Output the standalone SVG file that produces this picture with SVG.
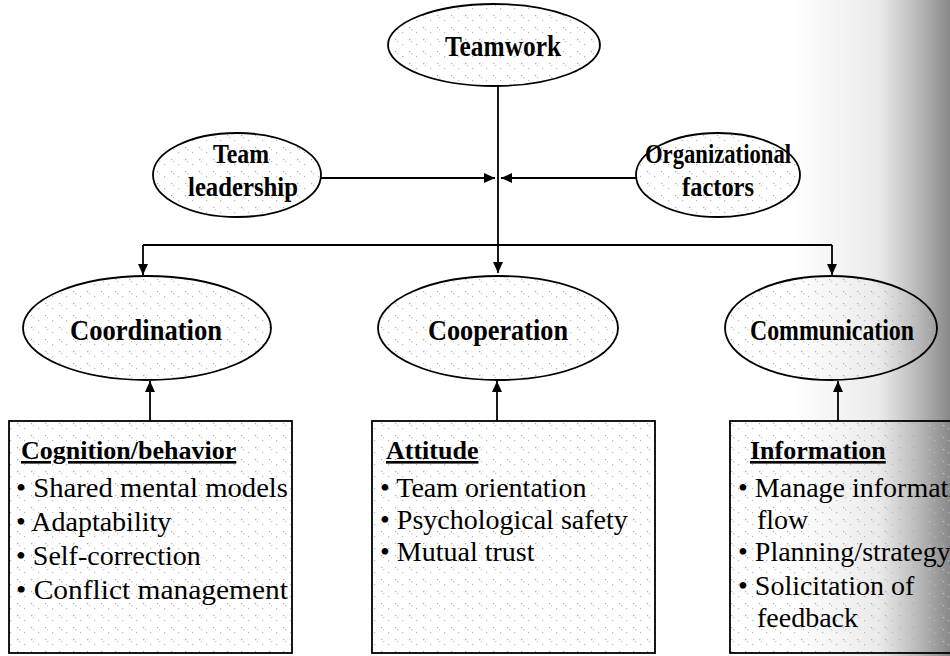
<svg xmlns="http://www.w3.org/2000/svg" width="950" height="656" viewBox="0 0 950 656">
  <style>
    .shape { stroke: #000; stroke-width: 1.8; fill: url(#speckle); }
    .wire { stroke: #000; stroke-width: 1.8; fill: none; }
    .label { font-family: "Liberation Serif", "Times New Roman", serif; font-weight: bold; font-size: 30px; fill: #000; text-anchor: middle; }
    .pair { font-size: 27px; }
    .head { font-family: "Liberation Serif", "Times New Roman", serif; font-weight: bold; font-size: 26px; fill: #000; text-decoration: underline; }
    .item { font-family: "Liberation Serif", "Times New Roman", serif; font-size: 28px; fill: #000; }
  </style>
  <defs>
    <!-- faint speckle texture; transparent between dots so the page tone shows through -->
    <pattern id="speckle" width="14" height="12" patternUnits="userSpaceOnUse">
      <rect x="3" y="3" width="1.2" height="1.2" fill="#aaa"/>
      <rect x="5" y="5" width="1.2" height="1.2" fill="#c4c4c4"/>
      <rect x="10" y="8" width="1.2" height="1.2" fill="#b8b8b8"/>
    </pattern>
    <marker id="arrow" markerWidth="12" markerHeight="12" refX="11" refY="6" orient="auto" markerUnits="userSpaceOnUse">
      <path d="M0,1 L11,6 L0,11 Z" fill="#000"/>
    </marker>
    <linearGradient id="scanShade" x1="0" y1="0" x2="1" y2="0">
      <stop offset="0" stop-color="#777" stop-opacity="0"/>
      <stop offset="0.55" stop-color="#777" stop-opacity="0.15"/>
      <stop offset="1" stop-color="#555" stop-opacity="0.7"/>
    </linearGradient>
  </defs>

  <rect width="950" height="656" fill="#fff"/>
  <!-- darkened right margin of the page -->
  <rect x="790" y="0" width="160" height="656" fill="url(#scanShade)"/>

  <!-- connectors -->
  <g id="connectors">
    <path class="wire" d="M498,86 V273" marker-end="url(#arrow)"/>
    <path class="wire" d="M320,178 H495" marker-end="url(#arrow)"/>
    <path class="wire" d="M637,178 H501" marker-end="url(#arrow)"/>
    <path class="wire" d="M143,245 H832"/>
    <path class="wire" d="M143,245 V275" marker-end="url(#arrow)"/>
    <path class="wire" d="M832,245 V275" marker-end="url(#arrow)"/>
    <path class="wire" d="M150,421 V381" marker-end="url(#arrow)"/>
    <path class="wire" d="M497,421 V381" marker-end="url(#arrow)"/>
    <path class="wire" d="M838,421 V381" marker-end="url(#arrow)"/>
  </g>

  <!-- top level -->
  <g id="teamwork">
    <ellipse class="shape" cx="494" cy="45" rx="106" ry="41"/>
    <text class="label" x="503" y="56" textLength="116" lengthAdjust="spacingAndGlyphs">Teamwork</text>
  </g>

  <g id="team-leadership">
    <ellipse class="shape" cx="237" cy="175" rx="84" ry="42"/>
    <text class="label pair" x="241" y="163" textLength="56" lengthAdjust="spacingAndGlyphs">Team</text>
    <text class="label pair" x="243" y="196" textLength="110" lengthAdjust="spacingAndGlyphs">leadership</text>
  </g>

  <g id="organizational-factors">
    <ellipse class="shape" cx="718" cy="175" rx="82" ry="42"/>
    <text class="label pair" x="718" y="163" textLength="146" lengthAdjust="spacingAndGlyphs">Organizational</text>
    <text class="label pair" x="718" y="196" textLength="72" lengthAdjust="spacingAndGlyphs">factors</text>
  </g>

  <!-- second level -->
  <g id="coordination">
    <ellipse class="shape" cx="147" cy="328" rx="124" ry="52"/>
    <text class="label" x="146" y="340" textLength="152" lengthAdjust="spacingAndGlyphs">Coordination</text>
  </g>

  <g id="cooperation">
    <ellipse class="shape" cx="498" cy="328" rx="120" ry="52"/>
    <text class="label" x="498" y="340" textLength="140" lengthAdjust="spacingAndGlyphs">Cooperation</text>
  </g>

  <g id="communication">
    <ellipse class="shape" cx="831" cy="328" rx="106" ry="52"/>
    <text class="label" x="832" y="340" textLength="164" lengthAdjust="spacingAndGlyphs">Communication</text>
  </g>

  <!-- detail boxes -->
  <g id="cognition-behavior">
    <rect class="shape" x="9" y="421" width="283" height="232"/>
    <text class="head" x="21" y="459">Cognition/behavior</text>
    <text class="item" x="16" y="497" textLength="272" lengthAdjust="spacingAndGlyphs">• Shared mental models</text>
    <text class="item" x="16" y="531">• Adaptability</text>
    <text class="item" x="16" y="565">• Self-correction</text>
    <text class="item" x="16" y="599" textLength="272" lengthAdjust="spacingAndGlyphs">• Conflict management</text>
  </g>

  <g id="attitude">
    <rect class="shape" x="372" y="421" width="283" height="232"/>
    <text class="head" x="386" y="459">Attitude</text>
    <text class="item" x="380" y="497">• Team orientation</text>
    <text class="item" x="380" y="529">• Psychological safety</text>
    <text class="item" x="380" y="561">• Mutual trust</text>
  </g>

  <g id="information">
    <rect class="shape" x="730" y="421" width="240" height="232"/>
    <text class="head" x="750" y="459">Information</text>
    <text class="item" x="738" y="497">• Manage information</text>
    <text class="item" x="757" y="529">flow</text>
    <text class="item" x="738" y="561">• Planning/strategy</text>
    <text class="item" x="738" y="595">• Solicitation of</text>
    <text class="item" x="757" y="627">feedback</text>
  </g>
</svg>
